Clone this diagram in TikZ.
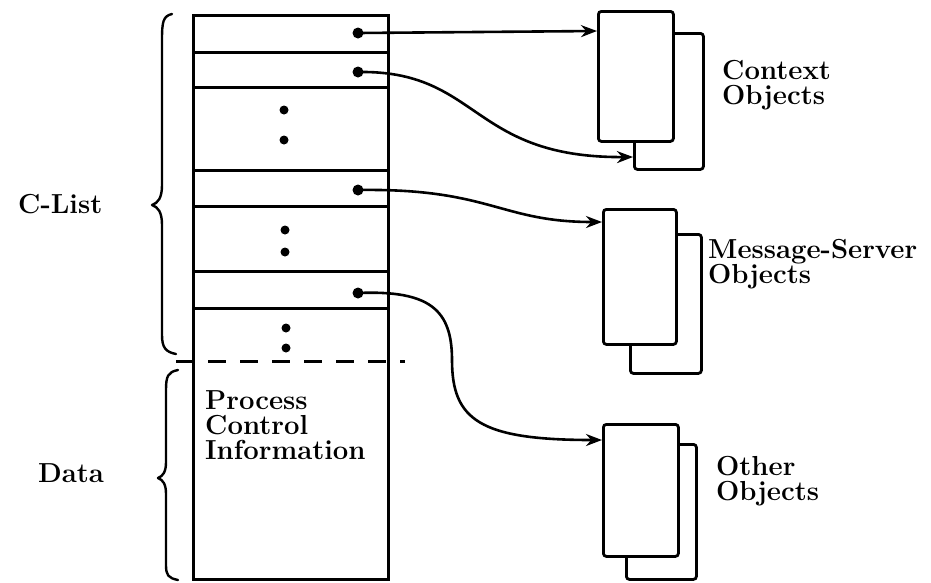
\documentclass[tikz,border=0pt]{standalone}
\usepackage{fontspec}
\usetikzlibrary{arrows.meta}
\begin{document}
\begin{tikzpicture}[x=1pt,y=-1pt,
  lbl/.style={font=\bfseries\fontsize{27.5}{25}\selectfont, inner sep=0pt, align=left, anchor=north west},
  colline/.style={line width=3pt},
  objbox/.style={draw, line width=2.8pt, fill=white, rounded corners=3pt, inner sep=0pt, anchor=north west},
  ptr/.style={line width=2.6pt, -{Stealth[length=16pt,width=12pt]}},
  pdot/.style={circle, fill, inner sep=0pt, minimum size=11pt},
  edot/.style={circle, fill, inner sep=0pt, minimum size=9pt},
  bracepath/.style={line width=2.4pt, line cap=round, line join=round},
]
\useasboundingbox (0,0) rectangle (931,582);

% column
\node[draw, line width=2.6pt, minimum width=195pt, minimum height=564pt, anchor=north west, inner sep=0pt] (col) at (192,14) {};
\foreach \yy in {52,87,170,206,271,308}
  \draw[colline] (192,\yy) -- (387,\yy);
\draw[colline, dash pattern=on 18pt off 14pt] (176,361) -- (405,361);

% ellipsis dots
\foreach \xx/\yy in {284/110,284/140,285/230,285/252,286/328,286/348}
  \node[edot] at (\xx,\yy) {};

% pointer dots
\node[pdot] (p1) at (358,33) {};
\node[pdot] (p2) at (358,72) {};
\node[pdot] (p3) at (358,190) {};
\node[pdot] (p4) at (358,293) {};

% object boxes
\node[objbox, minimum width=69pt, minimum height=136pt] (ctxB) at (633,32) {};
\node[objbox, minimum width=75pt, minimum height=130pt] (ctxF) at (597,10) {};
\node[objbox, minimum width=71pt, minimum height=139pt] (msgB) at (629,233) {};
\node[objbox, minimum width=73pt, minimum height=135pt] (msgF) at (602,208) {};
\node[objbox, minimum width=70pt, minimum height=135pt] (othB) at (625,443) {};
\node[objbox, minimum width=75pt, minimum height=132pt] (othF) at (602,423) {};

% arrow end points
\coordinate (e1) at (597,31);
\coordinate (e2) at (633,157);
\coordinate (e3) at (602,222);
\coordinate (e4) at (602,440);

\draw[ptr] (p1.center) -- (e1);
\draw[ptr] (p2.center) .. controls (480,70) and (470,158) .. (e2);
\draw[ptr] (p3.center) .. controls (490,188) and (500,222) .. (e3);
\draw[ptr] (p4.center) .. controls (430,290) and (452,310) .. (452,360) .. controls (452,420) and (480,440) .. (e4);

% braces
\draw[bracepath] (172,14) .. controls (163,16) and (162,22) .. (162,40) -- (162,185)
  .. controls (162,198) and (158,203) .. (152,205) .. controls (158,207) and (162,212) .. (162,225)
  -- (162,335) .. controls (162,348) and (166,352) .. (176,354);
\draw[bracepath] (178,370) .. controls (168,372) and (166,376) .. (166,390) -- (166,462)
  .. controls (166,472) and (163,476) .. (158,478) .. controls (163,480) and (166,484) .. (166,494)
  -- (166,565) .. controls (166,575) and (168,578) .. (178,580);

% labels
\node[lbl, anchor=base west] (clist) at (18,213) {C-List};
\node[lbl, anchor=base west] (data) at (38,482) {Data};
\node[lbl] (pci) at (205,390) {Process\\Control\\Information};
\node[lbl] (ctxT) at (722,60) {Context\\Objects};
\node[lbl] (msgT) at (708,239) {Message-Server\\Objects};
\node[lbl] (othT) at (716,456) {Other\\Objects};
\end{tikzpicture}
\end{document}
